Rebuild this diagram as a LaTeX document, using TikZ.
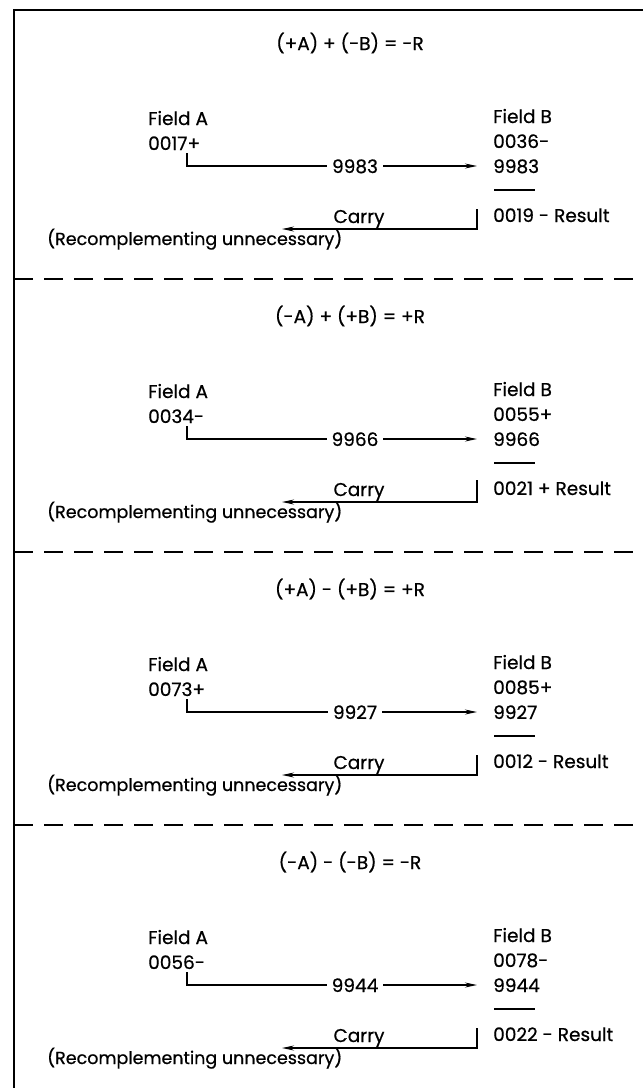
\documentclass[tikz,border=0pt]{standalone}
\usepackage{fontspec}
\setmainfont{Poppins}[FakeBold=0.6]
\usetikzlibrary{arrows.meta}
\newcommand{\txtfont}{\fontsize{18.5}{22}\selectfont}
\tikzset{
  txt/.style={inner sep=0pt, anchor=base west, font=\txtfont},
  ttl/.style={inner sep=0pt, anchor=base, font=\txtfont},
  lbl/.style={fill=white, inner xsep=5pt, inner ysep=1pt, anchor=base, font=\txtfont},
  conn/.style={line width=1.3pt},
  arr/.style={conn, -{Stealth[length=12pt,width=5pt]}},
  sepline/.style={line width=1.3pt, dash pattern=on 19pt off 11pt},
}
\newcommand{\diagpanel}[8]{%
  \begin{scope}[yshift=-#1pt]
    \node[ttl] (#8-t) at (350,50) {#2};
    \node[txt] (#8-fa) at (148,125) {Field A};
    \node[txt] (#8-av) at (148,150) {#3};
    \node[txt] (#8-fb) at (493,123) {Field B};
    \node[txt] (#8-bv) at (493,148) {#4};
    \node[txt] (#8-bc) at (493,173) {#5};
    \coordinate (#8-b1) at (494,190);
    \coordinate (#8-b2) at (535,190);
    \draw[conn] (#8-b1) -- (#8-b2);
    \node[txt] (#8-r) at (493,222) {#6};
    \coordinate (#8-c1) at (187,153);
    \coordinate (#8-c2) at (477,166);
    \draw[arr] (#8-c1) |- (#8-c2);
    \node[lbl] (#8-cl) at (355,173) {#5};
    \coordinate (#8-k1) at (477,#7);
    \coordinate (#8-k2) at (282,229);
    \draw[arr] (#8-k1) |- (#8-k2);
    \node[ttl] (#8-ca) at (359,223) {Carry};
    \node[txt, font=\fontsize{17.5}{22}\selectfont] (#8-rc) at (47,245) {(Recomplementing unnecessary)};
  \end{scope}}
\begin{document}
\begin{tikzpicture}[x=1pt,y=-1pt]
\useasboundingbox (0,0) rectangle (643,1088);
\fill[white] (0,0) rectangle (643,1088);
\coordinate (fr1) at (643,10);
\coordinate (fr2) at (14,10);
\coordinate (fr3) at (14,1088);
\draw[conn] (fr1) -- (fr2) -- (fr3);
\diagpanel{0}{(+A) + (-B) = -R}{0017+}{0036-}{9983}{0019 - Result}{209}{p1}
\diagpanel{273}{(-A) + (+B) = +R}{0034-}{0055+}{9966}{0021 + Result}{207}{p2}
\diagpanel{546}{(+A) - (+B) = +R}{0073+}{0085+}{9927}{0012 - Result}{209}{p3}
\diagpanel{819}{(-A) - (-B) = -R}{0056-}{0078-}{9944}{0022 - Result}{209}{p4}
\foreach \yy [count=\i] in {279,552,825} {
  \coordinate (d\i a) at (14,\yy);
  \coordinate (d\i b) at (643,\yy);
  \draw[sepline] (d\i a) -- (d\i b);
}
\end{tikzpicture}
\end{document}
